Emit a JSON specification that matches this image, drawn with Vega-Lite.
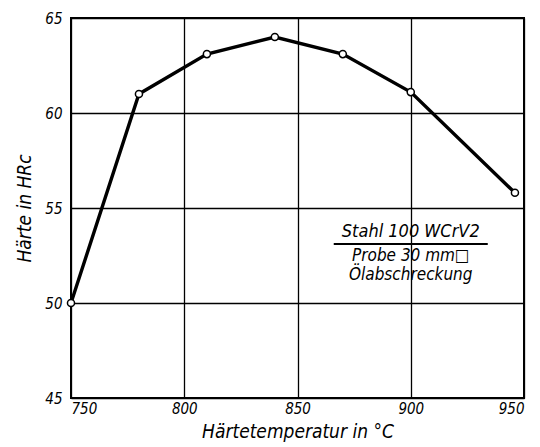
{
  "$schema": "https://vega.github.io/schema/vega-lite/v6.json",
  "width": 453,
  "height": 380,
  "autosize": {"type": "none"},
  "padding": {"left": 71, "top": 18, "right": 16, "bottom": 49},
  "background": "white",
  "config": {
    "view": {"stroke": "black", "strokeWidth": 2},
    "font": "DejaVu Sans Condensed, Roboto, sans-serif",
    "axis": {
      "grid": true,
      "gridColor": "black",
      "gridOpacity": 1,
      "gridWidth": 1.3,
      "domain": false,
      "ticks": false,
      "labelFont": "DejaVu Sans Condensed, Roboto, sans-serif",
      "labelFontStyle": "italic",
      "labelFontSize": 15,
      "labelColor": "black",
      "titleFont": "DejaVu Sans Condensed, Roboto, sans-serif",
      "titleFontStyle": "italic",
      "titleFontWeight": "normal",
      "titleFontSize": 19,
      "titleColor": "black"
    }
  },
  "datasets": {
    "pts": [
      {"t": 750, "h": 50},
      {"t": 780, "h": 61},
      {"t": 810, "h": 63.1},
      {"t": 840, "h": 64},
      {"t": 870, "h": 63.1},
      {"t": 900, "h": 61.1},
      {"t": 946, "h": 55.8}
    ],
    "notes": [
      {"t": 900, "h": 53.75, "label": "Stahl 100 WCrV2", "fs": 18},
      {"t": 900, "h": 52.45, "label": "Probe 30 mm□", "fs": 17},
      {"t": 900, "h": 51.45, "label": "Ölabschreckung", "fs": 17}
    ],
    "underline": [{"t1": 866, "t2": 934, "h": 53.1}]
  },
  "layer": [
    {
      "data": {"name": "pts"},
      "mark": {"type": "line", "color": "black", "strokeWidth": 3.4},
      "encoding": {
        "x": {
          "field": "t", "type": "quantitative",
          "scale": {"domain": [750, 950], "nice": false},
          "axis": {"values": [750, 800, 850, 900, 950], "title": "Härtetemperatur in °C", "labelPadding": 3, "titlePadding": 6}
        },
        "y": {
          "field": "h", "type": "quantitative",
          "scale": {"domain": [45, 65], "nice": false, "zero": false},
          "axis": {"values": [45, 50, 55, 60, 65], "title": "Härte in HRc", "labelPadding": 9, "titlePadding": 10}
        }
      }
    },
    {
      "data": {"name": "pts"},
      "mark": {"type": "point", "shape": "circle", "filled": true, "fill": "white", "stroke": "black", "strokeWidth": 1.5, "size": 50, "opacity": 1},
      "encoding": {
        "x": {"field": "t", "type": "quantitative"},
        "y": {"field": "h", "type": "quantitative"}
      }
    },
    {
      "data": {"name": "notes"},
      "mark": {"type": "text", "fontStyle": "italic", "color": "black", "align": "center", "baseline": "middle"},
      "encoding": {
        "x": {"field": "t", "type": "quantitative"},
        "y": {"field": "h", "type": "quantitative"},
        "text": {"field": "label"},
        "size": {"field": "fs", "type": "quantitative", "scale": null}
      }
    },
    {
      "data": {"name": "underline"},
      "mark": {"type": "rule", "color": "black", "strokeWidth": 2},
      "encoding": {
        "x": {"field": "t1", "type": "quantitative"},
        "x2": {"field": "t2"},
        "y": {"field": "h", "type": "quantitative"}
      }
    }
  ]
}
